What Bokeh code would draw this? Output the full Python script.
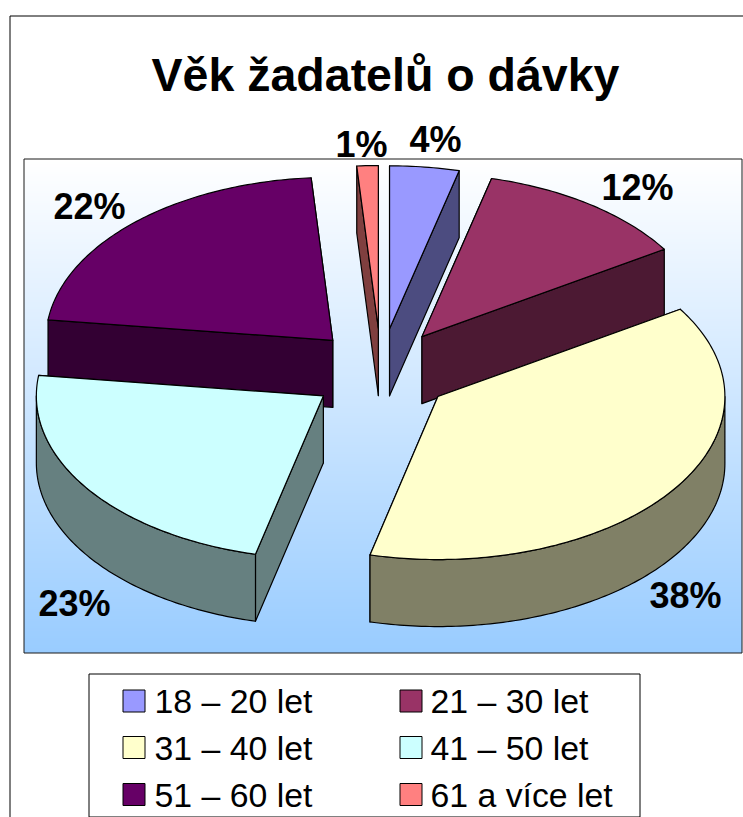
import math
from bokeh.plotting import figure
from bokeh.models import Range1d
from bokeh.core.properties import value
from bokeh.embed import file_html
from bokeh.resources import INLINE

TITLE = "Věk žadatelů o dávky"
categories = ["18 – 20 let", "21 – 30 let", "31 – 40 let", "41 – 50 let", "51 – 60 let", "61 a více let"]
shares = [3.9, 12.1, 37.8, 23.2, 21.8, 1.2]
top_colors = ["#9999FF", "#993366", "#FFFFCC", "#CCFFFF", "#660066", "#FF8080"]
wall_colors = ["#4C4C80", "#4C1933", "#808066", "#668080", "#330033", "#803F3F"]

# layout (page pixels)
FONT = value("Liberation Sans")
CX, CY = 380.5, 371.0
RX, RY = 287.0, 163.0
EXPLODE_X, EXPLODE_Y = 70.0, 43.0
DEPTH = 67.0
PLOT = (23.5, 741.5, 158.5, 652.5)
label_xy = [(435, 139), (637, 187), (685, 595), (74, 603), (89, 206), (361, 144)]
legend_box = (88.5, 639.5, 673.5, 816.5)
legend_cols = [(122.5, 154), (399.5, 430)]
legend_rows = [700.5, 747, 794]
SWATCH = 22

p = figure(width=743, height=817, x_range=Range1d(0, 743), y_range=Range1d(817, 0),
           min_border=0, toolbar_location=None, output_backend="svg",
           x_axis_location=None, y_axis_location=None, outline_line_color=None,
           background_fill_color="white", border_fill_color="white")
p.grid.visible = False

# outer chart frame: left and top edges
p.line([9.5, 9.5, 743], [817, 15.5, 15.5], line_color="black", line_width=1)

# plot area gradient, one strip per pixel row
left, right, top, bottom = PLOT
rows = int(bottom - top)
start, stop = (255, 255, 255), (153, 204, 255)
ys = [top + i for i in range(rows)]
cols = []
for i in range(rows):
    t = i / (rows - 1)
    cols.append("#%02X%02X%02X" % tuple(round(a + (b - a) * t) for a, b in zip(start, stop)))
p.quad(left=left, right=right, top=ys, bottom=[y + 1 for y in ys], fill_color=cols, line_color=None)
p.quad(left=[left], right=[right], top=[top], bottom=[bottom], fill_color=None,
       line_color="#1A1A1A", line_width=1)

# slices
edges = [0.0]
for s in shares:
    edges.append(edges[-1] + s / sum(shares) * 2 * math.pi)


def rim(ax, ay, th):
    return ax + RX * math.sin(th), ay - RY * math.cos(th)


def arc(ax, ay, a0, a1):
    n = max(2, int((a1 - a0) / 0.015))
    pts = [rim(ax, ay, a0 + (a1 - a0) * k / n) for k in range(n + 1)]
    return [q[0] for q in pts], [q[1] for q in pts]


STYLE = dict(line_color="black", line_width=1.2, line_join="round")
for i in [5, 0, 1, 4, 2, 3]:
    a0, a1 = edges[i], edges[i + 1]
    mid = (a0 + a1) / 2
    ax = CX + EXPLODE_X * math.sin(mid)
    ay = CY - EXPLODE_Y * math.cos(mid)
    # radial walls, the one nearer the viewer last
    for th in sorted((a0, a1), key=lambda t: rim(ax, ay, t)[1]):
        rx, ry = rim(ax, ay, th)
        p.patch([ax, rx, rx, ax], [ay, ry, ry + DEPTH, ay + DEPTH], fill_color=wall_colors[i], **STYLE)
    # outer rim wall, front half only
    f0, f1 = max(a0, math.pi / 2), min(a1, 3 * math.pi / 2)
    if f1 > f0:
        xs, yy = arc(ax, ay, f0, f1)
        p.patch(xs + xs[::-1], yy + [v + DEPTH for v in yy[::-1]], fill_color=wall_colors[i], **STYLE)
    # top surface
    xs, yy = arc(ax, ay, a0, a1)
    p.patch([ax] + xs, [ay] + yy, fill_color=top_colors[i], **STYLE)

# percent labels
p.text([q[0] for q in label_xy], [q[1] for q in label_xy],
       text=["%d%%" % round(s) for s in shares], text_font=FONT, text_font_style="bold",
       text_font_size="36px", text_align="center", text_baseline="middle", text_color="black")

# title
p.text([385], [74], text=[TITLE], text_font=FONT, text_font_style="bold", text_font_size="46.5px",
       text_align="center", text_baseline="middle", text_color="black")

# legend
p.quad(left=[legend_box[0]], right=[legend_box[1]], top=[legend_box[2]], bottom=[legend_box[3]],
       fill_color="white", line_color="black", line_width=1)
for i, name in enumerate(categories):
    sx, tx = legend_cols[i % 2]
    cy = legend_rows[i // 2]
    p.quad(left=[sx], right=[sx + SWATCH], top=[cy - SWATCH / 2], bottom=[cy + SWATCH / 2],
           fill_color=top_colors[i], line_color="black", line_width=1)
    p.text([tx], [cy], text=[name], text_font=FONT, text_font_size="33.8px",
           text_align="left", text_baseline="middle", text_color="black")

open("out.html", "w").write(file_html(p, INLINE))
